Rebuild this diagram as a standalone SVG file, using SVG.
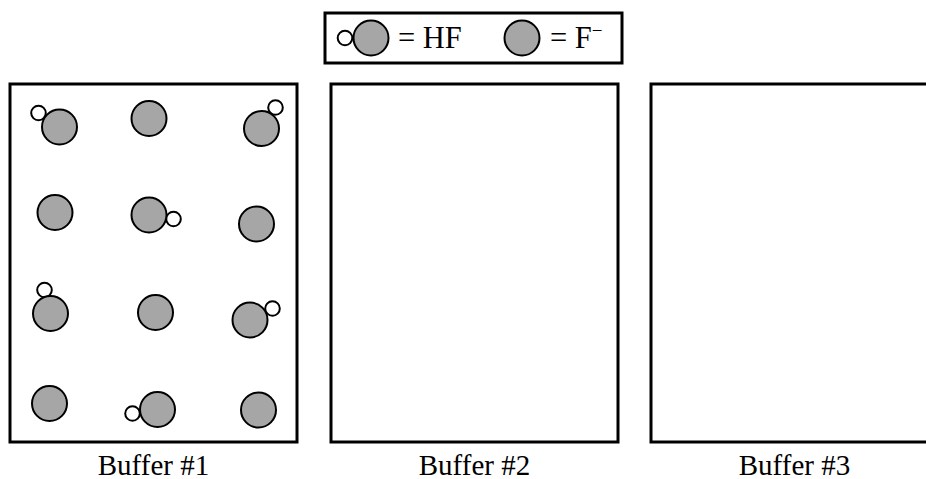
<svg xmlns="http://www.w3.org/2000/svg" width="926" height="479" viewBox="0 0 926 479">
  <style>
    .box { fill: #ffffff; stroke: #000000; stroke-width: 3; }
    .f { fill: #a6a6a6; stroke: #000000; stroke-width: 2; }
    .h { fill: #ffffff; stroke: #000000; stroke-width: 2; }
    .lbl { font-size: 29px; fill: #000000; }
    .key { font-size: 30.5px; fill: #000000; }
  </style>
  <defs>
    <circle id="fion" r="17.5" class="f"/>
    <circle id="hatom" r="7.3" class="h"/>
  </defs>
  <rect width="926" height="479" fill="#ffffff"/>

  <!-- Legend -->
  <g id="legend">
    <rect class="box" x="325" y="13" width="297" height="50"/>
    <use href="#hatom" x="345" y="38"/>
    <use href="#fion" x="371" y="38"/>
    <text class="key" font-family="Liberation Serif, DejaVu Serif, serif" x="398" y="48">= HF</text>
    <use href="#fion" x="522" y="38"/>
    <text class="key" font-family="Liberation Serif, DejaVu Serif, serif" x="550" y="48">= F<tspan font-size="19" dy="-11">−</tspan></text>
  </g>

  <!-- Buffer #1 with HF / F- particles -->
  <g id="buffer1">
    <rect class="box" x="10" y="84" width="287" height="358"/>
    <use href="#hatom" x="38.5" y="113"/>
    <use href="#fion" x="59.5" y="127"/>
    <use href="#fion" x="149" y="118.5"/>
    <use href="#hatom" x="275.5" y="107.5"/>
    <use href="#fion" x="261.5" y="128.5"/>

    <use href="#fion" x="55" y="212.5"/>
    <use href="#hatom" x="173.5" y="219"/>
    <use href="#fion" x="149" y="215"/>
    <use href="#fion" x="256.5" y="224"/>

    <use href="#hatom" x="44.5" y="290"/>
    <use href="#fion" x="50.5" y="313.5"/>
    <use href="#fion" x="155.5" y="312.5"/>
    <use href="#hatom" x="272.5" y="308.5"/>
    <use href="#fion" x="250" y="320"/>

    <use href="#fion" x="49.5" y="403.5"/>
    <use href="#hatom" x="132.5" y="413.5"/>
    <use href="#fion" x="157.5" y="409.5"/>
    <use href="#fion" x="258.5" y="410"/>
    <text class="lbl" font-family="Liberation Serif, DejaVu Serif, serif" x="153.5" y="474.5" text-anchor="middle">Buffer #1</text>
  </g>

  <!-- Buffer #2 (empty) -->
  <g id="buffer2">
    <rect class="box" x="331" y="84" width="287" height="358"/>
    <text class="lbl" font-family="Liberation Serif, DejaVu Serif, serif" x="474.5" y="474.5" text-anchor="middle">Buffer #2</text>
  </g>

  <!-- Buffer #3 (empty, runs off the right edge) -->
  <g id="buffer3">
    <rect class="box" x="651" y="84" width="287" height="358"/>
    <text class="lbl" font-family="Liberation Serif, DejaVu Serif, serif" x="794.5" y="474.5" text-anchor="middle">Buffer #3</text>
  </g>

  <g id="connectors"/>
</svg>
